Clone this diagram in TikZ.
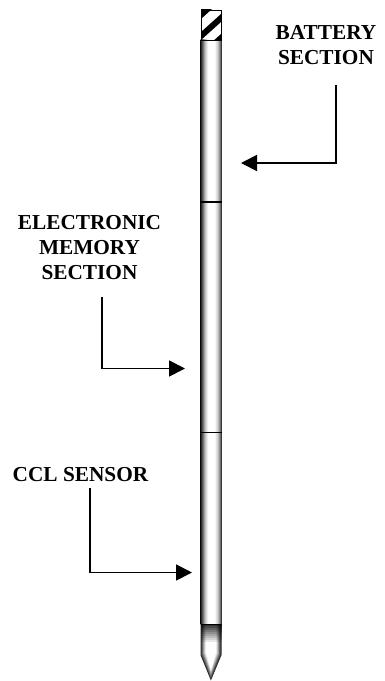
\documentclass[tikz,border=0pt]{standalone}
\usepackage{fontspec}
\setmainfont{Liberation Serif}
\usetikzlibrary{arrows.meta}
\pgfdeclarehorizontalshading{tube}{100bp}{color(0bp)=(black!90); color(25bp)=(black!90); color(29bp)=(black!65); color(36bp)=(black!22); color(43bp)=(white); color(58bp)=(white); color(66bp)=(black!22); color(72bp)=(black!60); color(75bp)=(black!90); color(100bp)=(black!90)}
\tikzset{
  lbl/.style={font=\fontsize{21.3}{25}\selectfont\bfseries, align=center, inner sep=0pt, text=black},
  callout/.style={draw=black, line width=1.8pt, -{Triangle[length=16pt,width=16pt]}},
  sep/.style={draw=black, line width=1.8pt},
  tubebody/.style={shading=tube, shading angle=0}
}
\begin{document}
\begin{tikzpicture}[x=1pt,y=-1pt]
\useasboundingbox (0,0) rectangle (385,681);
% tube
\path[tubebody] (200.5,39) rectangle (221.5,624);
% nose: nested layers following the taper
\foreach \t in {0,1,...,10}{
  \pgfmathsetmacro{\u}{\t/10}
  \pgfmathsetmacro{\k}{max(0,85*(1-\u*1.8))}
  \fill[black!\k] (200.5+9*\u,624) -- (221.5-9*\u,624) -- (221.5-9*\u,655-4*\u) -- (210.9,680.5-18*\u) -- (200.5+9*\u,655-4*\u) -- cycle;
}
\foreach \t in {0,1,...,8}{
  \pgfmathsetmacro{\op}{0.8*(1-\t/9)}
  \fill[black, opacity=\op] (200.5,624+\t*2) -- (221.5,624+\t*2) -- (221.5,626+\t*2) -- (200.5,626+\t*2) -- cycle;
}
% cap
\begin{scope}
\clip (201,9.5) rectangle (221,39.5);
\fill[black] (201,9) -- (212,9) -- (201,19) -- cycle;
\fill[black] (201,32) -- (221,14) -- (221,22) -- (201,40) -- cycle;
\fill[black] (201,52) -- (221,34) -- (221,42) -- (201,60) -- cycle;
\end{scope}
\node[draw=black, line width=1.4pt, minimum width=20pt, minimum height=30pt, inner sep=0pt, anchor=north west] (cap) at (201,9.5) {};
% separators
\coordinate (s1l) at (200.5,202); \coordinate (s1r) at (221.5,202);
\coordinate (s2l) at (200.5,432.5); \coordinate (s2r) at (221.5,432.5);
\coordinate (s3l) at (201,624.5); \coordinate (s3r) at (221,624.5);
\draw[sep] (s1l) -- (s1r);
\draw[sep] (s2l) -- (s2r);
\draw[sep] (s3l) -- (s3r);
% labels
\node[lbl] (bat) at (326,45.5) {BATTERY\\SECTION};
\node[lbl] (elec) at (89.5,248) {ELECTRONIC\\MEMORY\\SECTION};
\node[lbl] (ccl) at (80.5,475) {CCL SENSOR};
% connectors
\coordinate (a1) at (336,85); \coordinate (a1b) at (336,163); \coordinate (a1t) at (241,163);
\coordinate (a2) at (102,297); \coordinate (a2b) at (102,368.5); \coordinate (a2t) at (185,368.5);
\coordinate (a3) at (90,488); \coordinate (a3b) at (90,572.5); \coordinate (a3t) at (192,572.5);
\draw[callout] (a1) -- (a1b) -- (a1t);
\draw[callout] (a2) -- (a2b) -- (a2t);
\draw[callout] (a3) -- (a3b) -- (a3t);
\end{tikzpicture}
\end{document}
